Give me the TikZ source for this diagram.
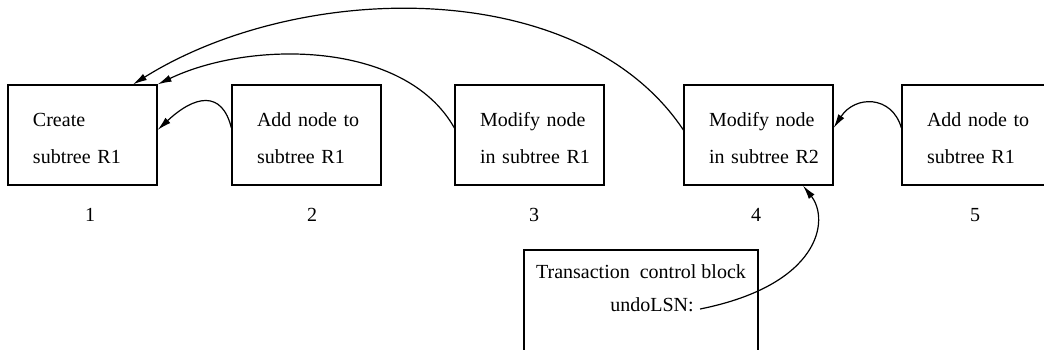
\documentclass[tikz,border=0pt]{standalone}
\usepackage{fontspec}
\setmainfont{Liberation Serif}
\usetikzlibrary{arrows.meta}
\begin{document}
\begin{tikzpicture}[x=0.5pt,y=-0.5pt,
  every node/.style={font=\fontsize{10}{18.5}\selectfont},
  stepbox/.style={draw,line width=0.6pt,minimum width=74.5pt,minimum height=50pt,
    inner xsep=0pt,inner ysep=0pt,text width=74.5pt,align=left,
    execute at begin node={\leftskip=12.5pt\rule{0pt}{10pt}}},
  num/.style={inner sep=0pt},
  link/.style={line width=0.6pt,-{Latex[length=7pt,width=3.6pt]}}]
\useasboundingbox (0,0) rectangle (1044,349);
\clip (0,0) rectangle (1044,349);

% log records
\node[stepbox] (b1) at (82.5,135)  {Create\\subtree R1};
\node[stepbox] (b2) at (306.5,135) {Add node to\\subtree R1};
\node[stepbox] (b3) at (529.5,135) {Modify node\\in subtree R1};
\node[stepbox] (b4) at (758.5,135) {Modify node\\in subtree R2};
\node[stepbox] (b5) at (976.5,135) {Add node to\\subtree R1};

% record numbers
\node[num] (n1) at (90,215)  {1};
\node[num] (n2) at (312,215) {2};
\node[num] (n3) at (534,215) {3};
\node[num] (n4) at (756,215) {4};
\node[num] (n5) at (975,215) {5};

% transaction control block
\node[draw,line width=0.6pt,minimum width=117pt,minimum height=56pt,inner sep=0pt]
  (tcb) at (641,306) {};
\node[inner sep=0pt] (tt) at (641,272) {Transaction\ \ control block};
\node[inner sep=0pt] (ul) at (652,305) {undoLSN:};

% back pointers
\draw[link] ([yshift=3.5pt]b2.west) .. controls (222,90) and (195,95) .. ([yshift=2.5pt]b1.east);
\draw[link] ([yshift=3.5pt]b3.west) .. controls (405,40) and (250,40) .. (b1.north east);
\draw[link] ([yshift=2.5pt]b4.west) .. controls (580,-25) and (300,-20) .. ([xshift=25.25pt]b1.north);
\draw[link] ([yshift=3.5pt]b5.west) .. controls (892,95) and (855,95) .. ([yshift=3.5pt]b4.east);
\draw[link] ([xshift=3pt,yshift=-2pt]ul.east) .. controls (820,285) and (830,220) .. ([xshift=22.25pt]b4.south);
\end{tikzpicture}
\end{document}
